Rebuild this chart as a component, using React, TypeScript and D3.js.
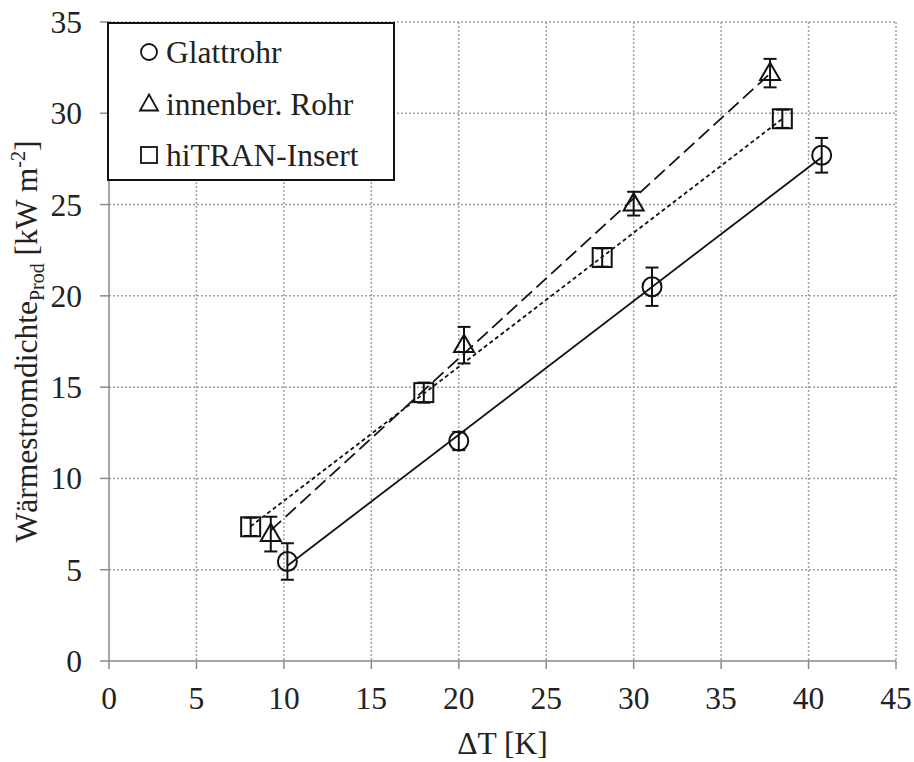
import React from "react";
import * as d3 from "d3";

// Measured temperature difference ΔT [K] and product-side heat flux density [kW m^-2]
const glattX = [10.2, 20.0, 31.05, 40.75];
const glattY = [5.45, 12.05, 20.5, 27.7];
const glattErr = [1.0, 0.5, 1.05, 0.95];

const innenX = [9.25, 20.3, 30.0, 37.8];
const innenY = [6.95, 17.3, 25.05, 32.2];
const innenErr = [0.95, 1.0, 0.65, 0.78];

const hitranX = [8.1, 18.0, 28.2, 38.5];
const hitranY = [7.35, 14.7, 22.1, 29.7];
const hitranErr = [0.5, 0.55, 0.5, 0.5];

const xTicks = [0, 5, 10, 15, 20, 25, 30, 35, 40, 45];
const yTicks = [0, 5, 10, 15, 20, 25, 30, 35];

const seriesNames = ["Glattrohr", "innenber. Rohr", "hiTRAN-Insert"];

const W = 914;
const H = 762;
const left = 109;
const right = 896;
const top = 22;
const bottom = 661;
const FONT = "'Liberation Serif', 'Times New Roman', serif";
const FS = 31.5;
const FS_SMALL = 20;

const x = d3.scaleLinear().domain([0, 45]).range([left, right]);
const y = d3.scaleLinear().domain([0, 35]).range([bottom, top]);

// least-squares trend line through a series
function fit(xs: number[], ys: number[]) {
  const mx = d3.mean(xs)!;
  const my = d3.mean(ys)!;
  const sxy = d3.sum(xs.map((v, i) => (v - mx) * (ys[i] - my)));
  const sxx = d3.sum(xs.map((v) => (v - mx) * (v - mx)));
  const b = sxy / sxx;
  const a = my - b * mx;
  const x0 = d3.min(xs)!;
  const x1 = d3.max(xs)!;
  return [
    [x0, a + b * x0],
    [x1, a + b * x1],
  ] as [number, number][];
}

type Shape = "circle" | "triangle" | "square";

function Marker({ cx, cy, shape }: { cx: number; cy: number; shape: Shape }) {
  const sw = 2;
  if (shape === "circle")
    return <circle cx={cx} cy={cy} r={9.5} fill="none" stroke="#111" strokeWidth={sw} />;
  if (shape === "square")
    return <rect x={cx - 9.5} y={cy - 9.5} width={19} height={19} fill="none" stroke="#111" strokeWidth={sw} />;
  const s = 20;
  const h = s * 0.866;
  const p = `M${cx},${cy - h * 0.6} L${cx + s / 2},${cy + h * 0.4} L${cx - s / 2},${cy + h * 0.4} Z`;
  return <path d={p} fill="none" stroke="#111" strokeWidth={sw} />;
}

const series = [
  { xs: glattX, ys: glattY, err: glattErr, shape: "circle" as Shape, dash: "none" },
  { xs: innenX, ys: innenY, err: innenErr, shape: "triangle" as Shape, dash: "14,6" },
  { xs: hitranX, ys: hitranY, err: hitranErr, shape: "square" as Shape, dash: "4,3" },
];

export default function App() {
  const line = d3
    .line<[number, number]>()
    .x((d) => x(d[0]))
    .y((d) => y(d[1]));

  return (
    <svg
      width={W}
      height={H}
      style={{ position: "absolute", left: 0, top: 0, background: "#fff", fontFamily: FONT }}
    >
      <rect width={W} height={H} fill="#fff" />
      {/* grid */}
      {xTicks
        .filter((t) => t > 0)
        .map((t) => (
          <line key={"gx" + t} x1={x(t)} x2={x(t)} y1={top} y2={bottom} stroke="#a0a0a0" strokeWidth={1.5} strokeDasharray="2,2" />
        ))}
      {yTicks
        .filter((t) => t > 0)
        .map((t) => (
          <line key={"gy" + t} x1={left} x2={right} y1={y(t)} y2={y(t)} stroke="#a0a0a0" strokeWidth={1.5} strokeDasharray="2,2" />
        ))}
      {/* axes */}
      <line x1={left} x2={left} y1={top} y2={bottom} stroke="#8a8a8a" strokeWidth={1.5} />
      <line x1={left} x2={right} y1={bottom} y2={bottom} stroke="#8a8a8a" strokeWidth={1.5} />
      {xTicks.map((t) => (
        <g key={"xt" + t}>
          <line x1={x(t)} x2={x(t)} y1={bottom} y2={bottom + 8} stroke="#8a8a8a" strokeWidth={1.5} />
          <text x={x(t)} y={709} textAnchor="middle" fontSize={FS} fill="#222">
            {t}
          </text>
        </g>
      ))}
      {yTicks.map((t) => (
        <g key={"yt" + t}>
          <line x1={left - 9} x2={left} y1={y(t)} y2={y(t)} stroke="#8a8a8a" strokeWidth={1.5} />
          <text x={82} y={y(t)} dy="0.35em" textAnchor="end" fontSize={FS} fill="#222">
            {t}
          </text>
        </g>
      ))}
      {/* trend lines */}
      {series.map((s, i) => (
        <path
          key={"l" + i}
          d={line(fit(s.xs, s.ys))!}
          fill="none"
          stroke="#111"
          strokeWidth={1.8}
          strokeDasharray={s.dash}
        />
      ))}
      {/* error bars and markers */}
      {series.map((s, i) =>
        s.xs.map((xv, j) => {
          const cx = x(xv);
          const y1 = y(s.ys[j] + s.err[j]);
          const y2 = y(s.ys[j] - s.err[j]);
          return (
            <g key={`m${i}-${j}`}>
              <line x1={cx} x2={cx} y1={y1} y2={y2} stroke="#111" strokeWidth={2} />
              <line x1={cx - 6.5} x2={cx + 6.5} y1={y1} y2={y1} stroke="#111" strokeWidth={2} />
              <line x1={cx - 6.5} x2={cx + 6.5} y1={y2} y2={y2} stroke="#111" strokeWidth={2} />
              <Marker cx={cx} cy={y(s.ys[j])} shape={s.shape} />
            </g>
          );
        })
      )}
      {/* legend */}
      <rect x={108} y={23} width={286} height={157} fill="#fff" stroke="#111" strokeWidth={2} />
      {seriesNames.map((n, i) => {
        const cy = 52 + i * 51.5;
        const mshape = series[i].shape;
        return (
          <g key={"lg" + i}>
            {mshape === "circle" && <circle cx={149} cy={cy} r={8} fill="none" stroke="#111" strokeWidth={1.8} />}
            {mshape === "triangle" && (
              <path d={`M149,${cy - 9} L158,${cy + 7} L140,${cy + 7} Z`} fill="none" stroke="#111" strokeWidth={1.8} />
            )}
            {mshape === "square" && (
              <rect x={141} y={cy - 8} width={16} height={16} fill="none" stroke="#111" strokeWidth={1.8} />
            )}
            <text x={166} y={cy} dy="0.35em" fontSize={FS} fill="#222">
              {n}
            </text>
          </g>
        );
      })}
      {/* axis titles */}
      <text x={(left + right) / 2} y={754} textAnchor="middle" fontSize={FS} fill="#222">
        ΔT [K]
      </text>
      <text
        transform={`translate(37, ${(top + bottom) / 2}) rotate(-90)`}
        textAnchor="middle"
        fontSize={FS}
        fill="#222"
      >
        Wärmestromdichte
        <tspan fontSize={FS_SMALL} dy={7}>Prod</tspan>
        <tspan dy={-7}> [kW m</tspan>
        <tspan fontSize={FS_SMALL} dy={-12}>-2</tspan>
        <tspan dy={12}>]</tspan>
      </text>
    </svg>
  );
}
